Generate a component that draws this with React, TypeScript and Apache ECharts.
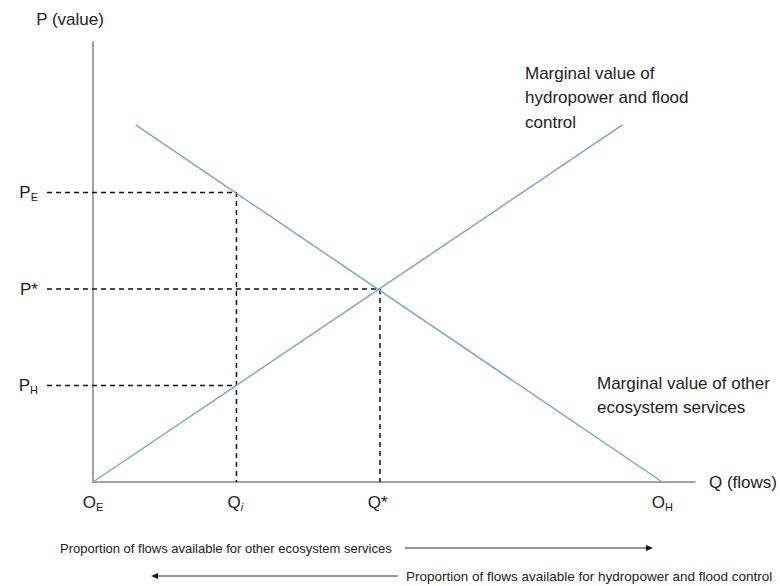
import React, { useEffect, useRef } from "react";
import * as echarts from "echarts";

// Axis ticks (Q = flows, P = value)
const qTickValues = [0, 1, 2, 4];
const qTickLabels = ["{m|O}{s|E}", "{m|Q}{si|i}", "{m|Q*}", "{m|O}{s|H}"];
const pTickValues = [1, 2, 3];
const pTickLabels = ["{m|P}{s|H}", "{m|P*}", "{m|P}{s|E}"];

// Curves
const hydroCurve = [
  [0, 0],
  [3.72, 3.7],
];
const ecoCurve = [
  [0.3, 3.7],
  [4, 0],
];

// Guide lines (dashed), drawn on a second grid that reaches left of the P axis
const guidePE = [
  [-0.32, 3],
  [1, 3],
  [1, 0],
];
const guidePStar = [
  [-0.32, 2],
  [2, 2],
  [2, 0],
];
const guidePH = [
  [-0.32, 1],
  [1, 1],
];

const Q_MAX = 4.23;
const P_MAX = 4.56;
const GUIDE_Q_MIN = -0.32;

const FONT = "Arial, 'Liberation Sans', sans-serif";
const TEXT = "#222222";
const AXIS = "#858585";
const CURVE = "#7aa6d4";

const rich = {
  m: { fontSize: 17, color: TEXT, fontFamily: FONT, lineHeight: 20 },
  s: { fontSize: 11, color: TEXT, fontFamily: FONT, lineHeight: 10, verticalAlign: "bottom" },
  si: { fontSize: 11, color: TEXT, fontFamily: FONT, lineHeight: 10, verticalAlign: "bottom", fontStyle: "italic" },
};

export default function App() {
  const ref = useRef<HTMLDivElement>(null);
  useEffect(() => {
    if (!ref.current) return;
    const chart = echarts.init(ref.current, null, { renderer: "svg" });
    const dashed = (data: number[][]) => ({
      type: "line",
      data,
      xAxisIndex: 1,
      yAxisIndex: 1,
      symbol: "none",
      silent: true,
      lineStyle: { color: "#111", width: 1.5, type: [5, 4] },
    });
    const hiddenAxis = { show: false };
    chart.setOption({
      animation: false,
      backgroundColor: "#ffffff",
      grid: [
        { left: 93, top: 42, right: 80, bottom: 104, containLabel: false },
        { left: 47, top: 42, right: 80, bottom: 104, containLabel: false },
      ],
      xAxis: [
        {
          type: "value",
          gridIndex: 0,
          min: 0,
          max: Q_MAX,
          interval: 1,
          name: "Q (flows)",
          nameLocation: "end",
          nameGap: 14,
          nameTextStyle: { fontSize: 17, color: TEXT, fontFamily: FONT },
          axisLine: { show: true, lineStyle: { color: AXIS, width: 1.5 } },
          axisTick: { show: false },
          splitLine: { show: false },
          axisLabel: {
            margin: 10,
            formatter: (v: number) => {
              const i = qTickValues.indexOf(v);
              return i >= 0 ? qTickLabels[i] : "";
            },
            rich,
          },
        },
        { type: "value", gridIndex: 1, min: GUIDE_Q_MIN, max: Q_MAX, ...hiddenAxis },
      ],
      yAxis: [
        {
          type: "value",
          gridIndex: 0,
          min: 0,
          max: P_MAX,
          interval: 1,
          name: "P (value)",
          nameLocation: "end",
          nameGap: 14,
          nameTextStyle: { fontSize: 17, color: TEXT, fontFamily: FONT, align: "center", padding: [0, 46, 0, 0] },
          axisLine: { show: true, lineStyle: { color: AXIS, width: 1.5 } },
          axisTick: { show: false },
          splitLine: { show: false },
          axisLabel: {
            margin: 55,
            formatter: (v: number) => {
              const i = pTickValues.indexOf(v);
              return i >= 0 ? pTickLabels[i] : "";
            },
            rich,
          },
        },
        { type: "value", gridIndex: 1, min: 0, max: P_MAX, ...hiddenAxis },
      ],
      series: [
        dashed(guidePE),
        dashed(guidePStar),
        dashed(guidePH),
        {
          type: "line",
          data: hydroCurve,
          symbol: "none",
          lineStyle: { color: CURVE, width: 1.5 },
        },
        {
          type: "line",
          data: ecoCurve,
          symbol: "none",
          lineStyle: { color: CURVE, width: 1.5 },
        },
      ],
      graphic: [
        {
          type: "text",
          x: 525,
          y: 61,
          style: {
            text: "Marginal value of\nhydropower and flood\ncontrol",
            fill: TEXT,
            fontSize: 17,
            fontFamily: FONT,
            lineHeight: 24.5,
            verticalAlign: "top",
          },
        },
        {
          type: "text",
          x: 597,
          y: 371,
          style: {
            text: "Marginal value of other\necosystem services",
            fill: TEXT,
            fontSize: 17,
            fontFamily: FONT,
            lineHeight: 24.5,
            verticalAlign: "top",
          },
        },
        {
          type: "text",
          x: 60,
          y: 548,
          style: {
            text: "Proportion of flows available for other ecosystem services",
            fill: TEXT,
            fontSize: 13,
            fontFamily: FONT,
            verticalAlign: "middle",
          },
        },
        {
          type: "line",
          shape: { x1: 405, y1: 548, x2: 647, y2: 548 },
          style: { stroke: "#333", lineWidth: 1 },
        },
        {
          type: "polygon",
          shape: { points: [[646, 545], [653, 548], [646, 551]] },
          style: { fill: "#111" },
        },
        {
          type: "text",
          x: 406,
          y: 576,
          style: {
            text: "Proportion of flows available for hydropower and flood control",
            fill: TEXT,
            fontSize: 13.5,
            fontFamily: FONT,
            verticalAlign: "middle",
          },
        },
        {
          type: "line",
          shape: { x1: 157, y1: 576, x2: 398, y2: 576 },
          style: { stroke: "#333", lineWidth: 1 },
        },
        {
          type: "polygon",
          shape: { points: [[158, 573], [151, 576], [158, 579]] },
          style: { fill: "#111" },
        },
      ],
    });
    return () => chart.dispose();
  }, []);
  return (
    <div
      ref={ref}
      style={{ position: "fixed", left: 0, top: 0, width: 780, height: 586 }}
    />
  );
}
